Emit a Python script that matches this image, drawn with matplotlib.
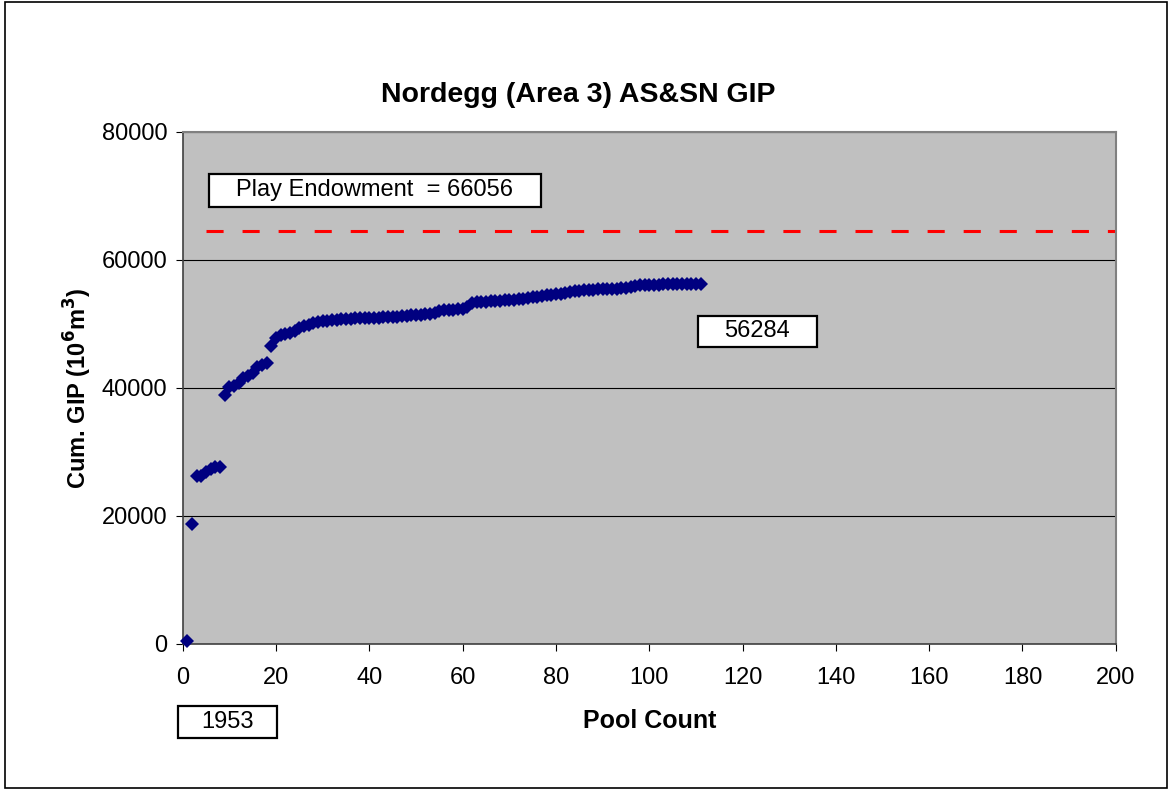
import matplotlib.pyplot as plt
import numpy as np
from matplotlib.patches import Rectangle

plt.rcParams['font.family'] = ['Liberation Sans', 'DejaVu Sans']

# cumulative GIP per pool (10^6 m3), pool count 1..111
pool_count = np.arange(1, 112)
cum_gip = [
    500, 18700, 26200, 26300, 26900, 27300, 27600, 27700, 38900, 40100,
    40300, 40800, 41500, 41900, 42300, 43300, 43600, 43900, 46500, 47800,
    48200, 48400, 48600, 48900, 49300, 49600, 49900, 50100, 50300, 50400,
    50500, 50600, 50650, 50700, 50750, 50800, 50850, 50900, 50920, 50950,
    50980, 51000, 51020, 51050, 51080, 51120, 51180, 51250, 51320, 51400,
    51450, 51500, 51600, 51700, 52000, 52100, 52200, 52250, 52300, 52400,
    52600, 53200, 53350, 53450, 53500, 53550, 53600, 53650, 53700, 53750,
    53800, 53850, 53950, 54050, 54150, 54250, 54350, 54450, 54550, 54650,
    54750, 54850, 55000, 55100, 55200, 55250, 55300, 55350, 55400, 55450,
    55480, 55500, 55530, 55560, 55600, 55700, 56000, 56050, 56080, 56100,
    56120, 56140, 56160, 56180, 56200, 56220, 56240, 56250, 56260, 56270,
    56284,
]
endowment_line_x = [5, 200]
endowment_line_y = [64500, 64500]
endowment_label = "Play Endowment  = 66056"
last_label = "56284"
year_label = "1953"

fig = plt.figure(figsize=(11.72, 7.9), dpi=100)
ax = fig.add_axes([0.156, 0.185, 0.796, 0.648])
ax.set_facecolor('#C0C0C0')

# outer frame of the chart
fig.patches.append(Rectangle((0.004, 0.003), 0.992, 0.994, transform=fig.transFigure,
                             fill=False, edgecolor='black', linewidth=1.2))

ax.set_xlim(0, 200)
ax.set_ylim(0, 80000)
ax.set_xticks(np.arange(0, 201, 20))
ax.set_yticks(np.arange(0, 80001, 20000))
ax.yaxis.grid(True, color='black', linewidth=0.8)
ax.set_axisbelow(True)
for s in ['top', 'right']:
    ax.spines[s].set_color('#808080')
    ax.spines[s].set_linewidth(1.5)
for s in ['left', 'bottom']:
    ax.spines[s].set_color('#404040')
    ax.spines[s].set_linewidth(1.2)
ax.tick_params(direction='out', length=5, labelsize=17, pad=6)
ax.tick_params(axis='x', pad=12)

ax.plot(endowment_line_x, endowment_line_y, color='#FF0000', linewidth=2.2,
        dashes=(5.6, 6.2))
ax.plot(pool_count, cum_gip, 'D', color='#000080', markersize=6.8,
        markeredgewidth=0, clip_on=False, zorder=3)

fig.text(0.493, 0.880, "Nordegg (Area 3) AS&SN GIP", fontsize=20.5,
         fontweight='bold', ha='center', va='center')
ax.set_xlabel("Pool Count", fontsize=18, fontweight='bold')
ax.xaxis.set_label_coords(0.5, (644 - 721) / 512)
ax.xaxis.label.set_va('center')
ax.set_ylabel("Cum. GIP (10$^\\mathbf{6}$m$^\\mathbf{3}$)", fontsize=17,
              fontweight='bold')
ax.yaxis.set_label_coords(-0.1125, 0.5)
ax.yaxis.label.set_va('center')

# white label boxes
def label_box(x0, y0, x1, y1, text, transform):
    fig.patches.append(Rectangle((x0, y0), x1 - x0, y1 - y0, transform=transform,
                                 facecolor='white', edgecolor='black',
                                 linewidth=1.6, zorder=5))
    fig.text((x0 + x1) / 2, (y0 + y1) / 2, text, transform=transform,
             fontsize=17, ha='center', va='center', zorder=6)

label_box(0.0279, 0.8535, 0.3837, 0.918, endowment_label, ax.transAxes)
label_box(0.552, 0.580, 0.6795, 0.6406, last_label, ax.transAxes)
label_box(0.1519, 0.0658, 0.2363, 0.1063, year_label, fig.transFigure)

fig.savefig('out.png', dpi=100)
